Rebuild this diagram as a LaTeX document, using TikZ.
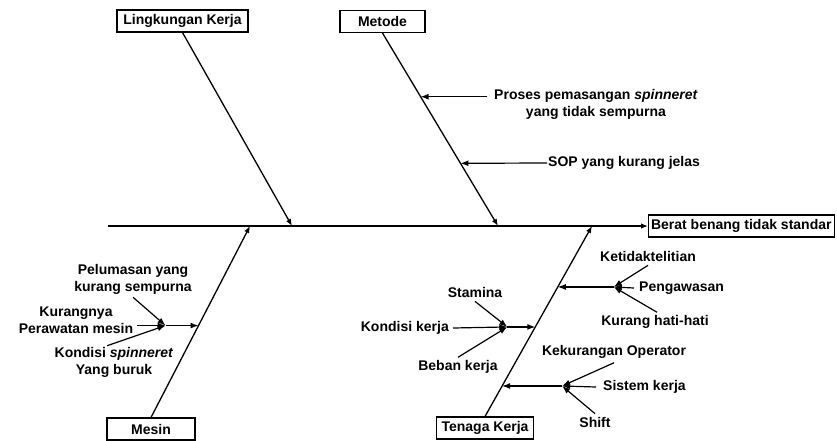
\documentclass[tikz,border=0pt]{standalone}
\usepackage{fontspec}
\setmainfont{Liberation Sans}
\usepackage{tikz}
\usetikzlibrary{arrows.meta}
\usetikzlibrary{calc}

\tikzset{
    kotak/.style={draw, line width=1.1pt, font=\bfseries\fontsize{14}{16}\selectfont, minimum height=22pt, inner sep=2pt},
    teks/.style={font=\bfseries\fontsize{14}{17}\selectfont, align=center, inner sep=1pt},
    tulang/.style={line width=1.3pt, -{Latex[length=7pt,width=5.5pt]}},
    duri/.style={line width=1.2pt, -{Latex[length=8pt,width=6pt]}}
}

\begin{document}
\begin{tikzpicture}[x=1pt, y=-1pt]
                \useasboundingbox (0,0) rectangle (837,440);
                % Kepala dan tulang utama
                \coordinate (ekor) at (108,226);
                \node[kotak, anchor=west, inner xsep=2.5pt] (akibat) at (648,226) {Berat benang tidak standar};
                \draw[tulang] (ekor) -- (akibat.west);
                % Kategori
                \node[kotak, minimum width=131pt] (lingkungan) at (182.5,21) {Lingkungan Kerja};
                \node[kotak, minimum width=85pt] (metode) at (382.5,21.5) {Metode};
                \node[kotak, minimum width=88pt] (mesin) at (151,429) {Mesin};
                \node[kotak, minimum width=97pt] (tenaga) at (485,428) {Tenaga Kerja};
                \coordinate (lk-ujung) at (292,226);
                \coordinate (mt-ujung) at (498,226);
                \coordinate (ms-ujung) at (250,226);
                \coordinate (tk-ujung) at (592,226);
                \draw[tulang] (lingkungan.south) -- (lk-ujung);
                \draw[tulang] (metode.south) -- (mt-ujung);
                \draw[tulang] (mesin.north) -- (ms-ujung);
                \draw[tulang] (tenaga.north) -- (tk-ujung);
                % Metode
                \coordinate (m1) at ($(metode.south)!.33!(mt-ujung)$);
                \coordinate (m2) at ($(metode.south)!.675!(mt-ujung)$);
                \node[teks] (proses) at (596,104) {Proses pemasangan \textit{spinneret}\\yang tidak sempurna};
                \node[teks, anchor=west] (sop) at (547,163) {SOP yang kurang jelas};
                \draw[duri] ([xshift=-6pt]proses.west |- m1) -- (m1);
                \draw[duri] (sop.west) -- (m2);
                % Mesin
                \coordinate (ms1) at ($(mesin.north)!.48!(ms-ujung)$);
                \coordinate (js1) at ($(ms1)+(-33,0)$);
                \node[teks] (pelumasan) at (133,279) {Pelumasan yang\\kurang sempurna};
                \node[teks] (kurangnya) at (76,320) {Kurangnya\\Perawatan mesin};
                \node[teks] (spinneret) at (114,362) {Kondisi \textit{spinneret}\\Yang buruk};
                \draw[duri] ([yshift=-2pt]pelumasan.south) -- (js1);
                \draw[duri] ([xshift=3pt]kurangnya.east |- js1) -- (js1);
                \draw[duri] ([xshift=-7pt]spinneret.north) -- (js1);
                \draw[duri] (js1) -- (ms1);
                % Tenaga Kerja
                \coordinate (t1) at ($(tenaga.north)!.47!(tk-ujung)$);
                \coordinate (jt1) at ($(t1)+(-28,0)$);
                \node[teks] (stamina) at (475,292) {Stamina};
                \node[teks, anchor=east] (kondisi) at (450,328) {Kondisi kerja};
                \node[teks] (beban) at (458,367) {Beban kerja};
                \draw[duri] ([yshift=-3pt]stamina.south) -- (jt1);
                \draw[duri] ([xshift=3pt]kondisi.east) -- (jt1);
                \draw[duri] ([yshift=2pt]beban.north) -- (jt1);
                \draw[duri] (jt1) -- (t1);
                \coordinate (t2) at ($(tenaga.north)!.68!(tk-ujung)$);
                \coordinate (jt2) at ($(t2)+(56,0)$);
                \node[teks] (teliti) at (648,256) {Ketidaktelitian};
                \node[teks, anchor=west] (awas) at (638,288) {Pengawasan};
                \node[teks] (hati) at (655,322) {Kurang hati-hati};
                \draw[duri] ([yshift=-3pt]teliti.south) -- (jt2);
                \draw[duri] ([xshift=-4pt]awas.west) -- (jt2);
                \draw[duri] ([xshift=2pt, yshift=2pt]hati.north) -- (jt2);
                \draw[duri] (jt2) -- (t2);
                \coordinate (t3) at ($(tenaga.north)!.16!(tk-ujung)$);
                \coordinate (jt3) at ($(t3)+(60,0)$);
                \node[teks] (operator) at (614,352) {Kekurangan Operator};
                \node[teks, anchor=west] (sistem) at (602,387) {Sistem kerja};
                \node[teks] (sif) at (595,422) {Shift};
                \draw[duri] ([yshift=-3pt]operator.south) -- (jt3);
                \draw[duri] ([xshift=-6pt]sistem.west) -- (jt3);
                \draw[duri] ([yshift=2pt]sif.north) -- (jt3);
                \draw[duri] (jt3) -- (t3);
            \end{tikzpicture}
\end{document}
